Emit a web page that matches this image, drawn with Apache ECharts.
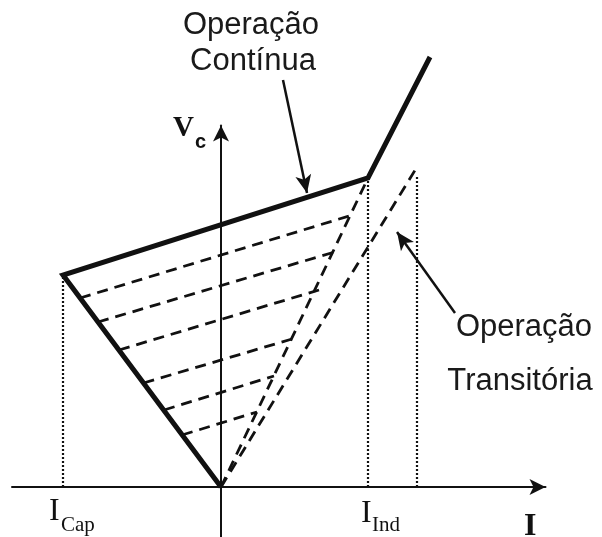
<!DOCTYPE html>
<html>
<head>
<meta charset="utf-8">
<script src="https://cdn.jsdelivr.net/npm/echarts@6/dist/echarts.min.js"></script>
<style>
  html, body { margin: 0; padding: 0; background: #fff; }
  #chart { width: 602px; height: 537px; }
</style>
</head>
<body>
<div id="chart"></div>
<script>
// V-I characteristic (I horizontal, Vc vertical), arbitrary units
const characteristic = [[0, 0], [-15.8, 21.2], [14.7, 30.9], [20.9, 43.0]];
// partial-conduction characteristics: start on capacitive branch, end on transient line
const partialStart = [[-14.1, 18.9], [-12.3, 16.5], [-10.2, 13.7], [-7.75, 10.4], [-5.7, 7.7], [-3.9, 5.2]];
const partialEnd = [[12.8, 27.1], [11.7, 23.6], [9.8, 19.7], [7.1, 14.8], [5.3, 11.1], [3.6, 7.5]];
// transient operating lines from the origin
const transientInner = [[0, 0], [14.7, 30.9]];
const transientOuter = [[0, 0], [19.6, 32.0]];
// current limits (dotted guides): I value and top of guide
const limitI = [-15.8, 14.7, 19.6];
const limitTop = [21.2, 30.9, 31.0];
// annotation arrows: [from, to]
const arrowContinua = [[6.2, 40.7], [8.6, 29.4]];
const arrowTransitoria = [[23.4, 17.4], [17.6, 25.5]];

const INK = '#111';

const series = [];
function lineSeries(data, style, z) {
  series.push({
    type: 'line', data: data, symbol: 'none', clip: false, silent: true, z: z || 2,
    lineStyle: Object.assign({ color: INK }, style)
  });
}

// dotted guides
limitI.forEach((x, i) => lineSeries([[x, 0], [x, limitTop[i]]], { width: 2.2, type: [2, 2] }, 1));
// dashed partial characteristics
partialStart.forEach((p, i) => lineSeries([p, partialEnd[i]], { width: 2.8, type: [11, 7] }));
lineSeries(transientInner, { width: 2.8, type: [11, 7] });
lineSeries(transientOuter, { width: 2.8, type: [11, 7] });
// continuous operation characteristic
lineSeries(characteristic, { width: 5, join: 'miter' }, 3);

// annotation arrows live on an overlay grid with the same scale but taller extent
series.push({
  type: 'line', data: [], symbol: 'none', silent: true, xAxisIndex: 1, yAxisIndex: 1,
  markLine: {
    silent: true, animation: false,
    symbol: ['none', 'arrow'], symbolSize: [12, 18],
    label: { show: false },
    lineStyle: { color: INK, width: 2.5, type: 'solid' },
    data: [
      [{ coord: arrowContinua[0] }, { coord: arrowContinua[1] }],
      [{ coord: arrowTransitoria[0] }, { coord: arrowTransitoria[1] }]
    ]
  }
});

const axisCommon = {
  type: 'value',
  axisTick: { show: false },
  axisLabel: { show: false },
  splitLine: { show: false },
  axisLine: {
    show: true, symbol: ['none', 'arrow'], symbolSize: [12, 16],
    lineStyle: { color: INK, width: 2 }
  }
};
const hiddenAxis = { type: 'value', show: false, splitLine: { show: false } };

const sansText = (text, x, y) => ({
  type: 'text', x: x, y: y, silent: true,
  style: { text: text, fill: '#1a1a1a', font: '31px "Liberation Sans", Arial, sans-serif',
           align: 'center', verticalAlign: 'middle' }
});
const serifText = (text, x, y, size, weight) => ({
  type: 'text', x: x, y: y, silent: true,
  style: { text: text, fill: INK, font: (weight || 'normal') + ' ' + size + 'px "Liberation Serif", "Times New Roman", serif',
           align: 'left', verticalAlign: 'middle' }
});

const chart = echarts.init(document.getElementById('chart'), null, { renderer: 'canvas' });
chart.setOption({
  animation: false,
  backgroundColor: '#fff',
  grid: [
    { left: 12, right: 56.5, top: 125.5, bottom: 0 },
    { left: 12, right: 56.5, top: 0, bottom: 0 }
  ],
  xAxis: [
    Object.assign({ min: -20.9, max: 32.45, gridIndex: 0 }, axisCommon),
    Object.assign({ min: -20.9, max: 32.45, gridIndex: 1 }, hiddenAxis)
  ],
  yAxis: [
    Object.assign({ min: -5.0, max: 36.15, gridIndex: 0 }, axisCommon),
    Object.assign({ min: -5.0, max: 48.7, gridIndex: 1 }, hiddenAxis)
  ],
  series: series,
  graphic: [
    sansText('Operação', 251, 25),
    sansText('Contínua', 253, 61),
    sansText('Operação', 524, 327),
    sansText('Transitória', 520, 381),
    serifText('V', 173, 129, 29, 'bold'),
    { type: 'text', x: 195, y: 142, silent: true,
      style: { text: 'c', fill: INK, font: 'bold 20px "Liberation Sans", Arial, sans-serif', align: 'left', verticalAlign: 'middle' } },
    serifText('I', 49, 512, 32),
    serifText('Cap', 61, 525, 21),
    serifText('I', 361, 514, 32),
    serifText('Ind', 372, 525, 21),
    serifText('I', 524, 527, 32, 'bold')
  ]
});
</script>
</body>
</html>
